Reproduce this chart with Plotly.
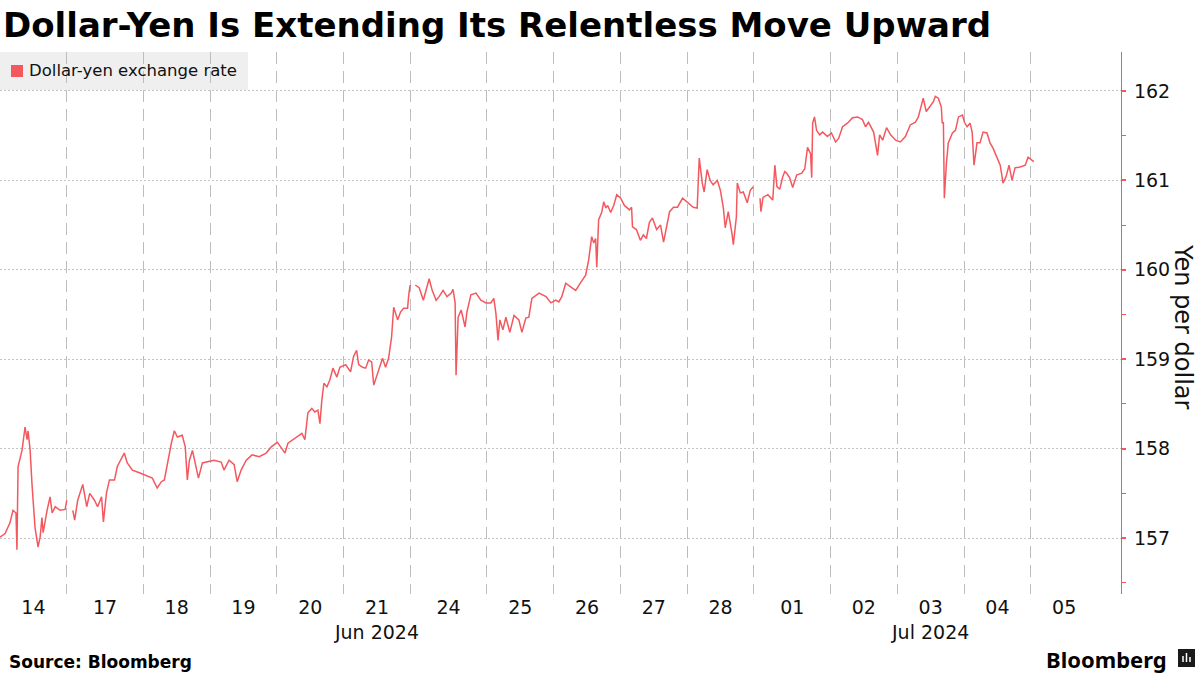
import plotly.graph_objects as go
import pandas as pd

# ---------------- data ----------------
timestamps = [
    "2024-06-14 00:00", "2024-06-14 01:50", "2024-06-14 03:35", "2024-06-14 04:40", "2024-06-14 05:45",
    "2024-06-14 06:05", "2024-06-14 06:30", "2024-06-14 07:55", "2024-06-14 09:00", "2024-06-14 09:45",
    "2024-06-14 10:05", "2024-06-14 10:50", "2024-06-14 11:30", "2024-06-14 11:55", "2024-06-14 12:35",
    "2024-06-14 13:40", "2024-06-14 14:25", "2024-06-14 15:05", "2024-06-14 15:30", "2024-06-14 16:55",
    "2024-06-14 18:00", "2024-06-14 18:45", "2024-06-14 19:50", "2024-06-14 21:35", "2024-06-14 23:25",
    "2024-06-14 23:59", "2024-06-16 21:30",
    "2024-06-16 22:40", "2024-06-16 23:20", "2024-06-17 00:25", "2024-06-17 02:15", "2024-06-17 03:40",
    "2024-06-17 04:45", "2024-06-17 06:30", "2024-06-17 07:35", "2024-06-17 09:00", "2024-06-17 09:40",
    "2024-06-17 10:45", "2024-06-17 11:50", "2024-06-17 13:40", "2024-06-17 14:40", "2024-06-17 16:10",
    "2024-06-17 17:10", "2024-06-17 18:15", "2024-06-17 20:05", "2024-06-17 22:35",
    "2024-06-18 01:05", "2024-06-18 03:15", "2024-06-18 05:00", "2024-06-18 06:30", "2024-06-18 07:35",
    "2024-06-18 08:40", "2024-06-18 10:05", "2024-06-18 11:10", "2024-06-18 12:15", "2024-06-18 14:00",
    "2024-06-18 15:05", "2024-06-18 15:50", "2024-06-18 16:35", "2024-06-18 17:40", "2024-06-18 19:05",
    "2024-06-18 19:50", "2024-06-18 21:15", "2024-06-18 23:00",
    "2024-06-19 01:25", "2024-06-19 04:00", "2024-06-19 05:00", "2024-06-19 06:50", "2024-06-19 08:40",
    "2024-06-19 09:45", "2024-06-19 11:10", "2024-06-19 13:00", "2024-06-19 15:05", "2024-06-19 17:40",
    "2024-06-19 20:10", "2024-06-19 22:00",
    "2024-06-20 00:10", "2024-06-20 01:50", "2024-06-20 02:55", "2024-06-20 04:00", "2024-06-20 06:30",
    "2024-06-20 09:00", "2024-06-20 10:05", "2024-06-20 11:10", "2024-06-20 12:35", "2024-06-20 13:40",
    "2024-06-20 14:45", "2024-06-20 15:30", "2024-06-20 16:10", "2024-06-20 16:55", "2024-06-20 18:00",
    "2024-06-20 19:05", "2024-06-20 20:10", "2024-06-20 21:35", "2024-06-20 22:40",
    "2024-06-21 00:45", "2024-06-21 02:30", "2024-06-21 03:35", "2024-06-21 04:40", "2024-06-21 05:25",
    "2024-06-21 06:50", "2024-06-21 07:55", "2024-06-21 09:00", "2024-06-21 10:05", "2024-06-21 10:50",
    "2024-06-21 12:15", "2024-06-21 14:00", "2024-06-21 15:05", "2024-06-21 16:10", "2024-06-21 17:15",
    "2024-06-21 18:00", "2024-06-21 19:25", "2024-06-21 20:30", "2024-06-21 21:35", "2024-06-21 23:00",
    "2024-06-21 23:25", "2024-06-21 23:55", "2024-06-23 21:00",
    "2024-06-23 22:15", "2024-06-23 23:40", "2024-06-24 01:10", "2024-06-24 02:15", "2024-06-24 03:15",
    "2024-06-24 04:20", "2024-06-24 05:45", "2024-06-24 06:50", "2024-06-24 08:15", "2024-06-24 09:40",
    "2024-06-24 11:10", "2024-06-24 11:50", "2024-06-24 12:35", "2024-06-24 12:55", "2024-06-24 13:40",
    "2024-06-24 14:45", "2024-06-24 15:25", "2024-06-24 16:10", "2024-06-24 16:50", "2024-06-24 18:15",
    "2024-06-24 20:05", "2024-06-24 21:50", "2024-06-24 23:40",
    "2024-06-25 01:25", "2024-06-25 02:30", "2024-06-25 03:15", "2024-06-25 04:00", "2024-06-25 04:40",
    "2024-06-25 05:45", "2024-06-25 06:50", "2024-06-25 08:15", "2024-06-25 09:45", "2024-06-25 11:30",
    "2024-06-25 12:35", "2024-06-25 14:00", "2024-06-25 15:05", "2024-06-25 16:10", "2024-06-25 18:45",
    "2024-06-25 21:15", "2024-06-25 23:00",
    "2024-06-26 00:45", "2024-06-26 01:50", "2024-06-26 02:55", "2024-06-26 04:20", "2024-06-26 06:05",
    "2024-06-26 07:55", "2024-06-26 09:45", "2024-06-26 11:30", "2024-06-26 12:35", "2024-06-26 13:40",
    "2024-06-26 14:25", "2024-06-26 15:05", "2024-06-26 15:30", "2024-06-26 16:10", "2024-06-26 17:15",
    "2024-06-26 18:00", "2024-06-26 18:45", "2024-06-26 19:25", "2024-06-26 20:30", "2024-06-26 21:35",
    "2024-06-26 22:40",
    "2024-06-27 00:05", "2024-06-27 01:25", "2024-06-27 03:15", "2024-06-27 04:00", "2024-06-27 04:20",
    "2024-06-27 05:45", "2024-06-27 07:10", "2024-06-27 08:15", "2024-06-27 09:20", "2024-06-27 10:25",
    "2024-06-27 11:30", "2024-06-27 13:00", "2024-06-27 14:25", "2024-06-27 15:30", "2024-06-27 16:35",
    "2024-06-27 17:40", "2024-06-27 19:05", "2024-06-27 20:30", "2024-06-27 22:20",
    "2024-06-28 00:20", "2024-06-28 02:10", "2024-06-28 03:35", "2024-06-28 04:00", "2024-06-28 04:20",
    "2024-06-28 05:25", "2024-06-28 06:05", "2024-06-28 07:10", "2024-06-28 08:15", "2024-06-28 09:20",
    "2024-06-28 10:50", "2024-06-28 11:55", "2024-06-28 13:00", "2024-06-28 13:40", "2024-06-28 14:45",
    "2024-06-28 16:10", "2024-06-28 16:35", "2024-06-28 17:40", "2024-06-28 18:00", "2024-06-28 19:05",
    "2024-06-28 20:10", "2024-06-28 21:35", "2024-06-28 22:40", "2024-06-28 23:45", "2024-06-30 21:30",
    "2024-06-30 22:40", "2024-06-30 23:00", "2024-06-30 23:45", "2024-07-01 01:30", "2024-07-01 03:15",
    "2024-07-01 04:00", "2024-07-01 04:45", "2024-07-01 05:45", "2024-07-01 06:50", "2024-07-01 07:35",
    "2024-07-01 08:15", "2024-07-01 09:20", "2024-07-01 10:25", "2024-07-01 11:50", "2024-07-01 13:40",
    "2024-07-01 14:45", "2024-07-01 15:45", "2024-07-01 16:50", "2024-07-01 17:15", "2024-07-01 17:35",
    "2024-07-01 18:15", "2024-07-01 19:00", "2024-07-01 20:05", "2024-07-01 21:10", "2024-07-01 22:55",
    "2024-07-02 00:20", "2024-07-02 01:50", "2024-07-02 02:55", "2024-07-02 04:20", "2024-07-02 06:05",
    "2024-07-02 07:55", "2024-07-02 09:45", "2024-07-02 11:30", "2024-07-02 12:35", "2024-07-02 13:40",
    "2024-07-02 15:30", "2024-07-02 16:55", "2024-07-02 17:40", "2024-07-02 18:45", "2024-07-02 20:10",
    "2024-07-02 21:35", "2024-07-02 23:25",
    "2024-07-03 01:05", "2024-07-03 02:55", "2024-07-03 04:40", "2024-07-03 06:30", "2024-07-03 07:35",
    "2024-07-03 08:40", "2024-07-03 09:20", "2024-07-03 10:25", "2024-07-03 11:30", "2024-07-03 13:00",
    "2024-07-03 13:40", "2024-07-03 14:45", "2024-07-03 15:50", "2024-07-03 16:10", "2024-07-03 16:35",
    "2024-07-03 16:55", "2024-07-03 17:40", "2024-07-03 18:20", "2024-07-03 19:50", "2024-07-03 20:55",
    "2024-07-03 22:00", "2024-07-03 23:25",
    "2024-07-04 00:10", "2024-07-04 01:05", "2024-07-04 02:10", "2024-07-04 02:55", "2024-07-04 03:35",
    "2024-07-04 04:40", "2024-07-04 05:45", "2024-07-04 06:50", "2024-07-04 08:15", "2024-07-04 09:20",
    "2024-07-04 10:25", "2024-07-04 11:55", "2024-07-04 13:00", "2024-07-04 13:40", "2024-07-04 14:00",
    "2024-07-04 15:05", "2024-07-04 16:10", "2024-07-04 17:15", "2024-07-04 18:20", "2024-07-04 20:10",
    "2024-07-04 22:00", "2024-07-04 23:00", "2024-07-05 00:05", "2024-07-05 01:05",
]

yen = [
    157.01, 157.05, 157.17, 157.31, 157.28,
    156.87, 157.80, 157.98, 158.24, 158.10,
    158.20, 157.98, 157.60, 157.42, 157.12,
    156.90, 157.01, 157.23, 157.06, 157.31,
    157.46, 157.28, 157.35, 157.31, 157.32,
    157.42, None,
    157.31, 157.20, 157.42, 157.60, 157.35,
    157.50, 157.42, 157.35, 157.46, 157.18,
    157.50, 157.65, 157.65, 157.80, 157.89,
    157.95, 157.84, 157.76, 157.73,
    157.70, 157.67, 157.56, 157.63, 157.65,
    157.84, 158.06, 158.20, 158.13, 158.15,
    158.02, 157.65, 157.87, 157.98, 157.80,
    157.67, 157.84, 157.85,
    157.87, 157.85, 157.76, 157.87, 157.82,
    157.63, 157.76, 157.87, 157.93, 157.91,
    157.95, 158.02,
    158.07, 158.00, 157.95, 158.06, 158.12,
    158.17, 158.10, 158.40, 158.45, 158.41,
    158.43, 158.28, 158.54, 158.73, 158.69,
    158.77, 158.90, 158.80, 158.91,
    158.94, 158.86, 159.03, 159.10, 158.94,
    158.91, 158.90, 158.99, 158.97, 158.71,
    158.85, 159.01, 158.91, 159.01, 159.25,
    159.58, 159.44, 159.53, 159.57, 159.57,
    159.72, 159.83, None,
    159.83, 159.80, 159.66, 159.77, 159.90,
    159.77, 159.66, 159.70, 159.77, 159.70,
    159.74, 159.78, 159.63, 158.82, 159.47,
    159.55, 159.47, 159.36, 159.53, 159.72,
    159.74, 159.66, 159.63,
    159.63, 159.68, 159.51, 159.21, 159.44,
    159.33, 159.47, 159.30, 159.49, 159.44,
    159.30, 159.46, 159.47, 159.68, 159.74,
    159.70, 159.63,
    159.66, 159.64, 159.70, 159.85, 159.81,
    159.77, 159.86, 159.94, 160.11, 160.37,
    160.30, 160.35, 160.03, 160.56, 160.64,
    160.76, 160.69, 160.72, 160.64, 160.72,
    160.84,
    160.80, 160.72, 160.67, 160.70, 160.48,
    160.45, 160.33, 160.39, 160.35, 160.53,
    160.58, 160.45, 160.50, 160.31, 160.47,
    160.65, 160.70, 160.70, 160.80,
    160.75, 160.70, 160.69, 161.08, 161.25,
    160.97, 160.87, 161.12, 161.00, 160.95,
    161.00, 160.89, 160.69, 160.47, 160.65,
    160.39, 160.28, 160.59, 160.97, 160.86,
    160.87, 160.75, 160.89, 160.93, None,
    160.80, 160.65, 160.81, 160.84, 160.78,
    161.17, 160.93, 160.90, 161.04, 161.10,
    161.08, 161.03, 160.92, 161.06, 161.08,
    161.13, 161.37, 161.30, 161.03, 161.64,
    161.71, 161.56, 161.51, 161.54, 161.49,
    161.53, 161.43, 161.47, 161.60, 161.64,
    161.70, 161.71, 161.68, 161.60, 161.65,
    161.54, 161.28, 161.51, 161.45, 161.59,
    161.51, 161.45,
    161.43, 161.49, 161.62, 161.65, 161.71,
    161.84, 161.92, 161.77, 161.82, 161.88,
    161.94, 161.92, 161.82, 161.64, 161.65,
    160.80, 161.19, 161.42, 161.53, 161.56,
    161.71, 161.73,
    161.65, 161.60, 161.64, 161.54, 161.17,
    161.42, 161.42, 161.54, 161.53, 161.42,
    161.36, 161.26, 161.17, 161.04, 160.97,
    161.04, 161.17, 161.00, 161.14, 161.15,
    161.17, 161.26, 161.23, 161.21,
]

day_dates = [
    "2024-06-14", "2024-06-17", "2024-06-18", "2024-06-19", "2024-06-20", "2024-06-21",
    "2024-06-24", "2024-06-25", "2024-06-26", "2024-06-27", "2024-06-28",
    "2024-07-01", "2024-07-02", "2024-07-03", "2024-07-04", "2024-07-05",
]
day_labels = [
    "14", "17", "18", "19", "20", "21<br>Jun 2024", "24", "25", "26", "27", "28",
    "01", "02", "03<br>Jul 2024", "04", "05",
]
y_ticks = [157, 158, 159, 160, 161, 162]

title_text = "Dollar-Yen Is Extending Its Relentless Move Upward"
series_name = "Dollar-yen exchange rate"
y_title = "Yen per dollar"
source_text = "Source: Bloomberg"

# ---------------- styling / geometry ----------------
RED = "#f4585f"
W, H = 1200, 675
ML, MR, MT, MB = 0, 79, 52, 81
PW = W - ML - MR
PH = H - MT - MB
FONT = "DejaVu Sans"


def px_x(px):
    return (px - ML) / PW


def px_y(py):
    return (H - MB - py) / PH


SUNDAY_HOURS = 3.5          # Sunday-evening trading counted into Monday's slot
WEEKEND_HOURS = 48 - SUNDAY_HOURS

days = pd.to_datetime(day_dates)
tick_positions, grid_positions = [], []
for d in days:
    if d.weekday() == 0:
        start = d - pd.Timedelta(hours=SUNDAY_HOURS)
        tick_positions.append(start + pd.Timedelta(hours=(24 + SUNDAY_HOURS) / 2))
    else:
        start = d
        tick_positions.append(d + pd.Timedelta(hours=12))
    grid_positions.append(start)

fmt = "%Y-%m-%d %H:%M"
tick_positions = [t.strftime(fmt) for t in tick_positions]
grid_positions = [g.strftime(fmt) for g in grid_positions]
break_starts = [(d + pd.Timedelta(days=1)).strftime(fmt) for d in days if d.weekday() == 4]

fig = go.Figure()
fig.add_trace(go.Scatter(
    x=timestamps, y=yen, mode="lines", name=series_name,
    line=dict(color=RED, width=1.5), connectgaps=False, showlegend=False,
))

fig.update_layout(
    width=W, height=H,
    margin=dict(l=ML, r=MR, t=MT, b=MB),
    paper_bgcolor="white", plot_bgcolor="white",
    title=dict(
        text="<b>" + title_text + "</b>",
        font=dict(family=FONT, size=34, color="#000000"),
        x=3 / W, xref="container", xanchor="left",
        y=1 - 25 / H, yref="container", yanchor="middle",
    ),
    xaxis=dict(
        type="date",
        range=["2024-06-14 00:00", "2024-07-08 04:55"],
        rangebreaks=[dict(values=break_starts, dvalue=WEEKEND_HOURS * 3600 * 1000)],
        tickmode="array", tickvals=tick_positions, ticktext=day_labels,
        ticks="", showgrid=False, showline=False, zeroline=False,
        tickfont=dict(family=FONT, size=19, color="#111111"),
        minor=dict(tickmode="array", tickvals=grid_positions, showgrid=True,
                   gridcolor="#bdbdbd", gridwidth=1, griddash="12px,7px", ticks=""),
    ),
    yaxis=dict(
        side="right",
        range=[156.374, 162.436],
        tickmode="array", tickvals=y_ticks,
        showgrid=True, gridcolor="#c4c4c4", gridwidth=1, griddash="2px,2px",
        showline=True, linecolor=RED, linewidth=1.3,
        ticks="outside", ticklen=4, tickwidth=2, tickcolor=RED,
        ticklabelstandoff=4,
        tickfont=dict(family=FONT, size=19, color="#111111"),
        zeroline=False,
        minor=dict(tickmode="linear", tick0=156.5, dtick=1, ticks="outside",
                   ticklen=4, tickwidth=1, tickcolor=RED, showgrid=False),
    ),
    shapes=[
        dict(type="rect", xref="paper", yref="paper",
             x0=px_x(0), x1=px_x(248), y0=px_y(90), y1=px_y(52),
             fillcolor="#efefef", line=dict(width=0), layer="below"),
        dict(type="rect", xref="paper", yref="paper",
             x0=px_x(11), x1=px_x(23), y0=px_y(77), y1=px_y(65),
             fillcolor=RED, line=dict(width=0), layer="above"),
        dict(type="rect", xref="paper", yref="paper",
             x0=px_x(1178), x1=px_x(1195), y0=px_y(667), y1=px_y(649),
             fillcolor="#1a1a1a", line=dict(width=0)),
        dict(type="line", xref="paper", yref="paper",
             x0=px_x(1183), x1=px_x(1183), y0=px_y(662), y1=px_y(656),
             line=dict(color="white", width=1.5)),
        dict(type="line", xref="paper", yref="paper",
             x0=px_x(1186.5), x1=px_x(1186.5), y0=px_y(662), y1=px_y(653),
             line=dict(color="white", width=1.5)),
        dict(type="line", xref="paper", yref="paper",
             x0=px_x(1190), x1=px_x(1190), y0=px_y(662), y1=px_y(657),
             line=dict(color="white", width=1.5)),
    ],
    annotations=[
        dict(text=series_name, xref="paper", yref="paper",
             x=px_x(27), y=px_y(71), xanchor="left", yanchor="middle",
             showarrow=False, font=dict(family=FONT, size=16.5, color="#111111")),
        dict(text=y_title, xref="paper", yref="paper",
             x=px_x(1183), y=px_y(327), xanchor="center", yanchor="middle",
             textangle=90, showarrow=False,
             font=dict(family=FONT, size=24, color="#111111")),
        dict(text="<b>" + source_text + "</b>", xref="paper", yref="paper",
             x=px_x(7), y=px_y(662), xanchor="left", yanchor="middle",
             showarrow=False, font=dict(family=FONT, size=17, color="#000000")),
        dict(text="<b>Bloomberg</b>", xref="paper", yref="paper",
             x=px_x(1169), y=px_y(659), xanchor="right", yanchor="middle",
             showarrow=False, font=dict(family="Noto Sans", size=22, color="#000000")),
    ],
)

fig.write_html("out.html", config={"displayModeBar": False},
               post_script="document.body.style.margin='0px';")
